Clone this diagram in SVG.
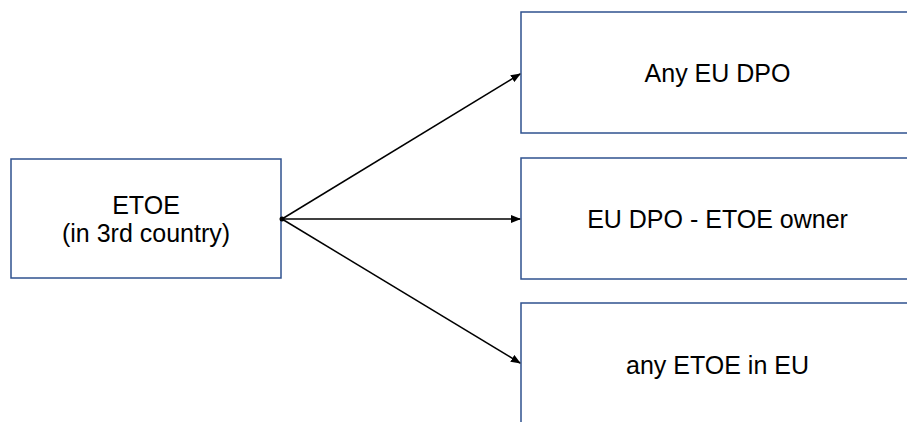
<svg xmlns="http://www.w3.org/2000/svg" width="907" height="422" viewBox="0 0 907 422">
  <style>
    .box { fill: #ffffff; stroke: #2F528F; stroke-width: 1.5; }
    .lbl { font-family: "Liberation Sans", Arial, sans-serif; font-size: 25px; fill: #000000; text-anchor: middle; }
    .conn { stroke: #000000; stroke-width: 1.5; fill: none; marker-end: url(#arrow); }
  </style>
  <defs>
    <marker id="arrow" markerWidth="10" markerHeight="8" refX="9" refY="4" orient="auto" markerUnits="userSpaceOnUse">
      <path d="M0,0 L10,4 L0,8 Z" fill="#000000"/>
    </marker>
  </defs>
  <rect width="907" height="422" fill="#ffffff"/>
  <g id="node-etoe">
    <rect class="box" x="11" y="159" width="270" height="119"/>
    <text class="lbl" x="146" y="214">ETOE</text>
    <text class="lbl" x="146" y="242">(in 3rd country)</text>
  </g>
  <g id="node-any-eu-dpo">
    <rect class="box" x="521" y="12" width="393" height="121"/>
    <text class="lbl" x="717.5" y="82">Any EU DPO</text>
  </g>
  <g id="node-eu-dpo-owner">
    <rect class="box" x="521" y="158" width="393" height="121"/>
    <text class="lbl" x="717.5" y="228">EU DPO - ETOE owner</text>
  </g>
  <g id="node-any-etoe-eu">
    <rect class="box" x="521" y="303" width="393" height="130"/>
    <text class="lbl" x="717.5" y="374">any ETOE in EU</text>
  </g>
  <g id="connectors">
    <circle cx="282" cy="219" r="2.5" fill="#000000"/>
    <line class="conn" x1="282" y1="219" x2="520" y2="74"/>
    <line class="conn" x1="282" y1="219" x2="520" y2="219"/>
    <line class="conn" x1="282" y1="219" x2="520" y2="363"/>
  </g>
</svg>
